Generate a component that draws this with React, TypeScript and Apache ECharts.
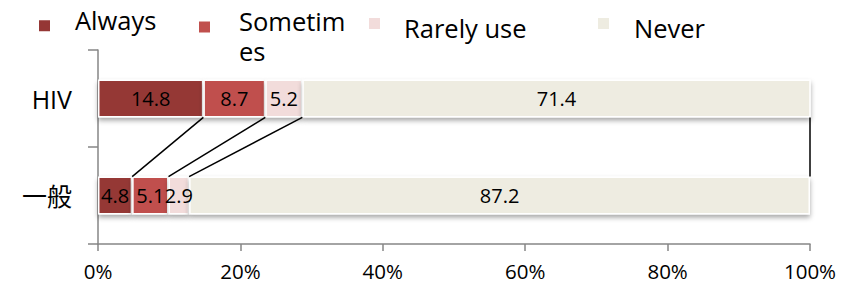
import React, { useEffect, useRef } from "react";
import * as echarts from "echarts";

const categories = ["HIV", "一般"];
const seriesNames = ["Always", "Sometimes", "Rarely use", "Never"];
const always = [14.8, 4.8];
const sometimes = [8.7, 5.1];
const rarelyUse = [5.2, 2.9];
const never = [71.4, 87.2];
const seriesValues = [always, sometimes, rarelyUse, never];
const colors = ["#953735", "#c0504d", "#f2dcdb", "#eeece1"];

const FONT = "'Open Sans', 'Noto Sans CJK JP', sans-serif";
const BAR_RATIO = 0.39;

export default function App() {
  const ref = useRef<HTMLDivElement>(null);
  useEffect(() => {
    if (!ref.current) return;
    const chart = echarts.init(ref.current, null, { renderer: "svg" });

    const boundaries: number[][] = [];
    const cum = [0, 0];
    seriesValues.forEach((vals) => {
      cum[0] += vals[0];
      cum[1] += vals[1];
      boundaries.push([Math.min(cum[0], 100), Math.min(cum[1], 100), 0]);
    });

    const legendBase = {
      orient: "horizontal",
      padding: 0,
      itemWidth: 13,
      itemHeight: 13,
      icon: "rect",
      selectedMode: false,
    };
    const richFor = (gap: number, lh: number, spacerH: number) => ({
      fontSize: 25.5,
      color: "#000",
      fontFamily: FONT,
      padding: [0, 0, 0, gap],
      rich: {
        t: { fontSize: 25.5, lineHeight: lh, color: "#000", fontFamily: FONT },
        s: { fontSize: 1, lineHeight: spacerH, color: "rgba(0,0,0,0)" },
      },
    });

    const option: any = {
      animation: false,
      textStyle: { fontFamily: FONT },
      legend: [
        {
          ...legendBase,
          data: [seriesNames[0]],
          left: 37,
          top: 7,
          formatter: (n: string) => `{t|${n}}\n{s| }`,
          textStyle: richFor(19, 28, 12),
        },
        {
          ...legendBase,
          data: [seriesNames[1]],
          left: 197,
          top: 6,
          itemWidth: 13,
          itemHeight: 31,
          icon: "path://M0,0L13,0L13,13L0,13Z M0,31L0.01,31",
          formatter: () => "Sometim\nes",
          textStyle: {
            fontSize: 25.5,
            lineHeight: 30,
            color: "#000",
            fontFamily: FONT,
            padding: [0, 0, 0, 23],
          },
        },
        {
          ...legendBase,
          data: [seriesNames[2]],
          left: 367,
          top: 9,
          formatter: (n: string) => `{s| }\n{t|${n}}`,
          textStyle: richFor(18, 28, 8),
        },
        {
          ...legendBase,
          data: [seriesNames[3]],
          left: 596,
          top: 9,
          formatter: (n: string) => `{s| }\n{t|${n}}`,
          textStyle: richFor(19, 28, 8),
        },
      ],
      grid: { left: 98, right: 36, top: 50, bottom: 41, containLabel: false },
      xAxis: {
        type: "value",
        min: 0,
        max: 100,
        interval: 20,
        axisLine: { show: true, lineStyle: { color: "#868686", width: 1.5 } },
        axisTick: { show: true, length: 7, lineStyle: { color: "#868686", width: 1.5 } },
        splitLine: { show: false },
        axisLabel: { formatter: "{value}%", fontSize: 20.5, color: "#000", margin: 17, fontFamily: FONT },
      },
      yAxis: {
        type: "category",
        inverse: true,
        data: categories,
        axisLine: { show: true, lineStyle: { color: "#868686", width: 1.5 } },
        axisTick: { show: true, length: 10, lineStyle: { color: "#868686", width: 1.5 } },
        axisLabel: { fontSize: 25, color: "#000", margin: 26, fontFamily: FONT },
      },
      series: [
        ...seriesNames.map((name, i) => ({
          name,
          type: "bar",
          stack: "total",
          barWidth: BAR_RATIO * 100 + "%",
          data: seriesValues[i],
          itemStyle: {
            color: colors[i],
            borderColor: "#ffffff",
            borderWidth: 1.5,
            shadowColor: "rgba(0,0,0,0.35)",
            shadowBlur: 5,
            shadowOffsetY: 3,
          },
          label: {
            show: true,
            position: "inside",
            color: "#000",
            fontSize: 20,
            fontFamily: FONT,
          },
        })),
        {
          name: "seriesLines",
          type: "custom",
          silent: true,
          z: 5,
          data: boundaries,
          encode: { x: [0, 1], y: 2 },
          renderItem: (params: any, api: any) => {
            const p1 = api.coord([api.value(0), 0]);
            const p2 = api.coord([api.value(1), 1]);
            const band = api.size([0, 1])[1];
            const h = (band * BAR_RATIO) / 2;
            return {
              type: "line",
              shape: { x1: p1[0], y1: p1[1] + h, x2: p2[0], y2: p2[1] - h },
              style: { stroke: "#000", lineWidth: 1.5 },
            };
          },
        },
      ],
    };
    chart.setOption(option);
    return () => chart.dispose();
  }, []);
  return (
    <div
      ref={ref}
      style={{ position: "absolute", left: 0, top: 0, width: 846, height: 285 }}
    />
  );
}
